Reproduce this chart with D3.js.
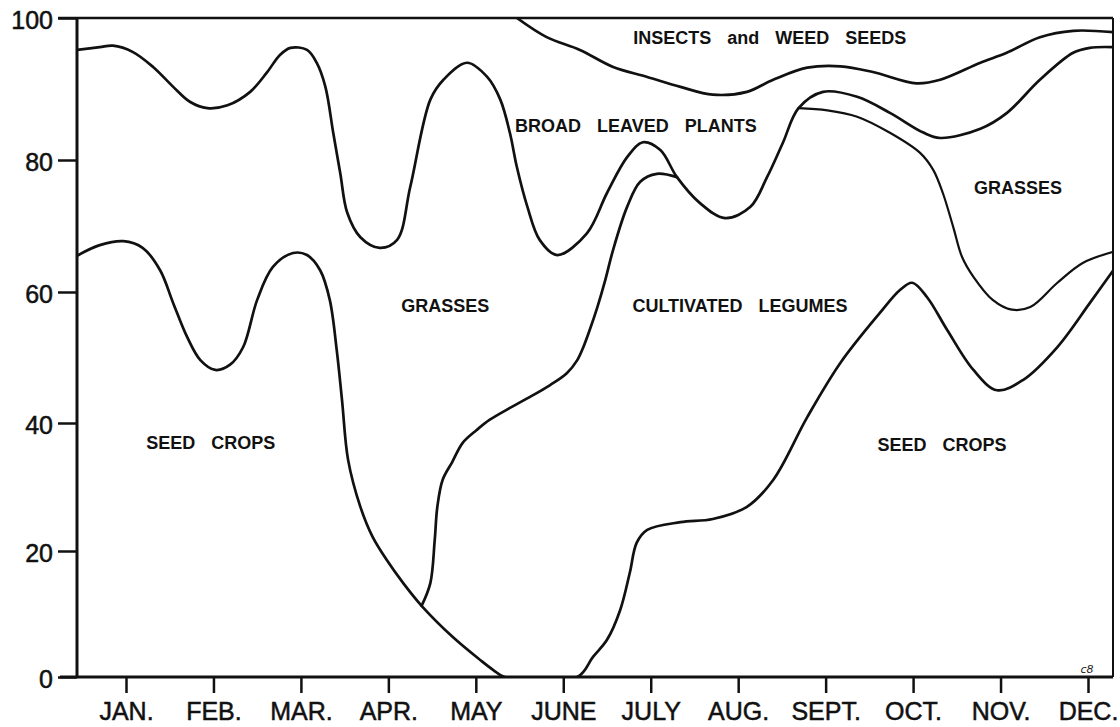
<!DOCTYPE html>
<html>
<head>
<meta charset="utf-8">
<script src="https://cdn.jsdelivr.net/npm/d3@7"></script>
<style>
html, body { margin: 0; padding: 0; background: #fff; }
svg { display: block; }
</style>
</head>
<body>
<script>
"use strict";

// vars
var width = 1120;
var height = 727;
var plotLeft = 77, plotRight = 1113, plotTop = 18, plotBottom = 677;

var months = ["JAN.", "FEB.", "MAR.", "APR.", "MAY", "JUNE", "JULY", "AUG.", "SEPT.", "OCT.", "NOV.", "DEC."];
var yTicks = [0, 20, 40, 60, 80, 100];

// boundary curves: [month (1 = mid Jan), cumulative per cent]
var seedTop = [[0.44,65.5],[0.70,67.1],[0.97,67.7],[1.19,66.7],[1.39,63.3],[1.54,58.3],[1.70,53.1],[1.85,49.6],
  [2.02,48.1],[2.19,48.9],[2.34,51.6],[2.50,58.8],[2.68,63.8],[2.91,65.9],[3.07,65.6],[3.22,63.3],[3.33,58.8],
  [3.41,51.1],[3.47,43.5],[3.54,34.2],[3.68,26.9],[3.82,22.2],[3.98,18.6],[4.17,14.9],[4.38,11.3],[4.74,6.3],
  [5.05,2.7],[5.20,1.1],[5.33,0],[6.16,0],[6.34,3.2],[6.50,5.9],[6.65,10.6],[6.76,16.5],[6.84,21.3],[6.96,23.3],
  [7.34,24.5],[7.71,25.0],[8.10,26.9],[8.40,31.1],[8.79,40.9],[9.17,49.2],[9.62,56.8],[9.85,60.3],[9.99,61.4],
  [10.16,59.2],[10.39,54.2],[10.69,48.1],[10.96,45.0],[11.26,46.6],[11.65,51.6],[12.02,58.3],[12.29,63.3]];

var legumeRise = [[4.38,11.3],[4.48,14.9],[4.53,21.7],[4.56,26.9],[4.62,31.1],[4.73,33.9],[4.85,36.9],[5.01,38.9],
  [5.16,40.5],[5.39,42.3],[5.62,44.0],[5.85,45.8],[6.04,47.6],[6.16,49.6],[6.23,51.6],[6.31,54.5],[6.39,57.7],
  [6.48,61.8],[6.57,66.4],[6.73,72.9],[6.88,76.7],[7.07,77.9],[7.30,77.4]];

var legumeFall = [[8.69,87.3],[9.02,87.0],[9.36,86.1],[9.74,83.8],[10.08,81.0],[10.23,78.5],[10.34,75.0],
  [10.46,69.8],[10.56,65.3],[10.69,62.3],[10.91,58.8],[11.13,57.3],[11.34,57.7],[11.65,61.4],[11.94,64.4],[12.29,66.1]];

var grassTop = [[0.44,95.5],[0.70,95.9],[0.85,96.1],[1.08,95.2],[1.31,93.1],[1.54,90.3],[1.73,88.2],[1.93,87.3],
  [2.16,87.7],[2.42,89.6],[2.61,92.3],[2.76,94.8],[2.88,95.8],[3.07,95.5],[3.18,93.7],[3.28,90.3],[3.37,83.8],
  [3.45,78.0],[3.53,72.0],[3.68,68.3],[3.90,66.7],[4.10,67.9],[4.25,75.9],[4.48,88.5],[4.63,91.3],[4.90,93.7],
  [5.13,91.7],[5.28,88.5],[5.39,83.8],[5.47,78.9],[5.59,72.9],[5.73,67.9],[5.93,65.6],[6.27,68.9],[6.50,75.0],
  [6.73,80.4],[6.91,82.5],[7.11,81.4],[7.30,77.4],[7.56,73.5],[7.85,71.2],[8.14,72.9],[8.33,77.4],[8.51,82.4],
  [8.69,87.3],[8.97,89.6],[9.36,88.9],[9.74,86.6],[10.11,83.9],[10.31,83.1],[10.77,84.4],[11.07,86.6],
  [11.45,91.3],[11.83,95.1],[12.02,95.8],[12.29,95.9]];

var broadTop = [[5.47,100],[5.81,97.3],[6.19,95.5],[6.57,93.1],[6.96,91.7],[7.34,90.3],[7.71,89.2],[8.10,89.6],
  [8.40,91.3],[8.79,93.0],[9.17,93.2],[9.54,92.4],[10.04,90.8],[10.31,91.3],[10.77,93.7],[11.07,95.1],
  [11.45,97.3],[11.83,98.2],[12.29,98.0]];

// area names
var labelText = ["INSECTS and WEED SEEDS", "BROAD LEAVED PLANTS", "GRASSES", "CULTIVATED LEGUMES", "GRASSES", "SEED CROPS", "SEED CROPS"];
var labelMonth = [8.36, 6.83, 4.65, 8.02, 11.20, 1.97, 10.33];
var labelValue = [97.2, 84.8, 58.0, 57.9, 75.9, 37.0, 36.6];

// scales (hand drawn original, so y spacing is not quite even)
var x = d3.scaleLinear().domain([1, 12]).range([126, 1088]);
var y = d3.scaleLinear().domain(yTicks).range([677, 551, 423, 292, 160, 18]);

var svg = d3.select("body").append("svg")
    .attr("width", width)
    .attr("height", height)
    .style("background", "#fff");

svg.append("defs").append("clipPath").attr("id", "plotclip")
  .append("rect")
    .attr("x", plotLeft).attr("y", plotTop)
    .attr("width", plotRight - plotLeft).attr("height", plotBottom - plotTop);

var line = d3.line()
    .x(d => x(d[0]))
    .y(d => y(d[1]))
    .curve(d3.curveCatmullRom.alpha(0.5));

var curves = svg.append("g")
    .attr("clip-path", "url(#plotclip)")
    .attr("fill", "none")
    .attr("stroke", "#111")
    .attr("stroke-linejoin", "round")
    .attr("stroke-linecap", "round");

[seedTop, legumeRise, grassTop, broadTop].forEach(function(c) {
  curves.append("path").attr("d", line(c)).attr("stroke-width", 2.7);
});
curves.append("path").attr("d", line(legumeFall)).attr("stroke-width", 2.2);

// frame
var frame = svg.append("g").attr("stroke", "#111").attr("fill", "none");
frame.append("line").attr("x1", plotLeft).attr("x2", plotLeft).attr("y1", plotTop).attr("y2", plotBottom).attr("stroke-width", 3);
frame.append("line").attr("x1", plotLeft - 17).attr("x2", plotRight).attr("y1", plotBottom).attr("y2", plotBottom).attr("stroke-width", 3);
frame.append("line").attr("x1", plotLeft - 19).attr("x2", plotRight).attr("y1", plotTop).attr("y2", plotTop).attr("stroke-width", 2.4);
frame.append("line").attr("x1", plotRight).attr("x2", plotRight).attr("y1", plotTop).attr("y2", plotBottom).attr("stroke-width", 2);

// axes
var yAxis = d3.axisLeft(y).tickValues(yTicks).tickSize(19).tickPadding(5).tickFormat(d3.format("d"));
var gy = svg.append("g").attr("transform", "translate(" + plotLeft + ",0)").call(yAxis);

var xAxis = d3.axisBottom(x).tickValues(d3.range(1, 13)).tickSize(16).tickPadding(9)
    .tickFormat(d => months[d - 1]);
var gx = svg.append("g").attr("transform", "translate(0," + plotBottom + ")").call(xAxis);

[gx, gy].forEach(function(g) {
  g.select(".domain").remove();
  g.attr("font-family", "'Liberation Sans', Arial, sans-serif").attr("font-size", 25);
  g.selectAll(".tick line").attr("stroke", "#111").attr("stroke-width", 2.5);
  g.selectAll(".tick text").attr("fill", "#111").attr("stroke", "#111").attr("stroke-width", 0.5);
});
gy.selectAll(".tick text").attr("dy", "0.42em");

// area labels
svg.append("g")
    .attr("font-family", "'Liberation Sans', Arial, sans-serif")
    .attr("font-weight", "bold")
    .attr("font-size", 18)
    .attr("fill", "#111")
    .attr("text-anchor", "middle")
    .style("word-spacing", "11px")
  .selectAll("text")
  .data(labelText)
  .enter().append("text")
    .attr("x", (d, i) => x(labelMonth[i]))
    .attr("y", (d, i) => y(labelValue[i]))
    .attr("dy", "0.36em")
    .text(d => d);

// draughtsman's mark
svg.append("text")
    .attr("x", 1087).attr("y", 673)
    .attr("text-anchor", "middle")
    .attr("font-family", "'DejaVu Sans', sans-serif")
    .attr("font-style", "italic")
    .attr("font-size", 11)
    .attr("fill", "#222")
    .text("c8");
</script>
</body>
</html>
